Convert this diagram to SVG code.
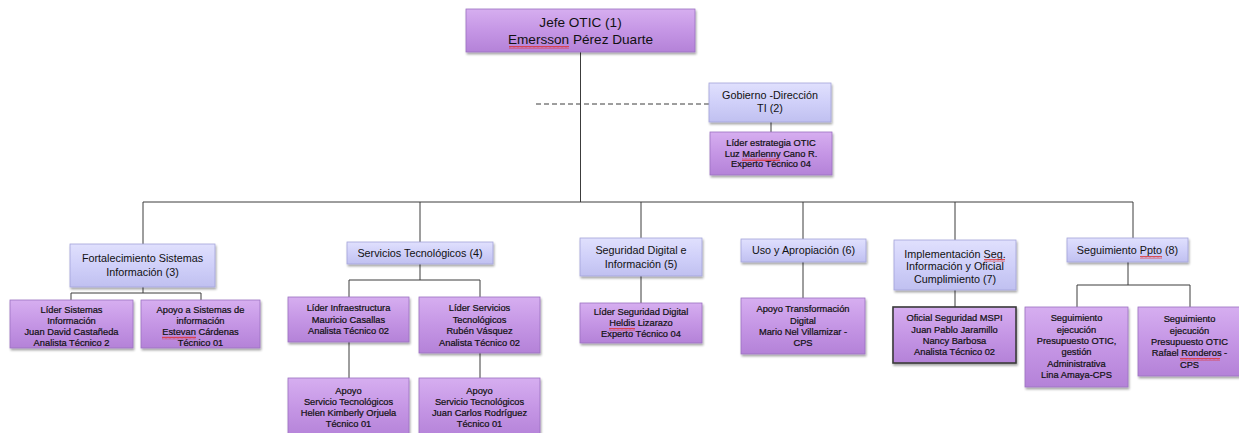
<svg xmlns="http://www.w3.org/2000/svg" width="1239" height="433" viewBox="0 0 1239 433">
<style>
text{font-family:"Liberation Sans",Arial,sans-serif;text-anchor:middle;fill:#111}
.p{fill:url(#gp);stroke:#9c72c0;stroke-width:0.8;filter:url(#sh)}
.l{fill:url(#gl);stroke:#a4a4da;stroke-width:0.8;filter:url(#sh)}
.dk{stroke:#3a3a3a;stroke-width:1.6}
.t0{font-size:13.6px}
.t1{font-size:10.8px}
.t2{font-size:9.3px;stroke:#111;stroke-width:0.22}
.c line,.c path{stroke:#3c3c3c;stroke-width:1;fill:none}
.sq{fill:url(#sqp)}
</style>
<defs>
<linearGradient id="gp" x1="0" y1="0" x2="0" y2="1">
<stop offset="0" stop-color="#d6aef0"/><stop offset="0.5" stop-color="#c596e5"/><stop offset="1" stop-color="#b482d8"/>
</linearGradient>
<linearGradient id="gl" x1="0" y1="0" x2="0" y2="1">
<stop offset="0" stop-color="#e0e0fd"/><stop offset="0.5" stop-color="#d0d0f9"/><stop offset="1" stop-color="#c0c0f0"/>
</linearGradient>
<filter id="sh" x="-10%" y="-10%" width="125%" height="135%">
<feDropShadow dx="1" dy="2" stdDeviation="1.3" flood-color="#000" flood-opacity="0.35"/>
</filter>
<pattern id="sqp" width="4" height="3" patternUnits="userSpaceOnUse">
<path d="M0 2.5 L1 0.5 L2 2.5 L3 0.5 L4 2.5" stroke="#e03030" stroke-width="0.8" fill="none"/>
</pattern>
</defs>

<g class="c" id="connectors">
<line x1="580.5" y1="52" x2="580.5" y2="202"/>
<line x1="536" y1="104" x2="709" y2="104" stroke-dasharray="5 3"/>
<line x1="771" y1="122" x2="771" y2="132"/>
<line x1="143" y1="202" x2="1133" y2="202"/>
<line x1="143" y1="202" x2="143" y2="244"/>
<line x1="420" y1="202" x2="420" y2="242"/>
<line x1="641" y1="202" x2="641" y2="238"/>
<line x1="803" y1="202" x2="803" y2="239"/>
<line x1="955" y1="202" x2="955" y2="240"/>
<line x1="1133" y1="202" x2="1133" y2="238"/>
<path d="M143 287 V293 M71 300 V293 H201 V300"/>
<path d="M420 264 V280 M349 297 V280 H480 V297"/>
<line x1="349" y1="342" x2="349" y2="378"/>
<line x1="480" y1="353" x2="480" y2="378"/>
<line x1="641" y1="276" x2="641" y2="303"/>
<line x1="803" y1="262" x2="803" y2="298"/>
<line x1="955" y1="290" x2="955" y2="307"/>
<path d="M1128 262 V285 M1077 307 V285 H1190 V307"/>
</g>

<g id="n1"><rect class="p" x="466" y="9" width="229" height="43"/>
<text class="t0" x="580.5" y="27">Jefe OTIC (1)</text>
<text class="t0" x="580.5" y="44">Emersson Pérez Duarte</text></g>

<g id="n2"><rect class="l" x="709" y="83" width="122" height="39"/>
<text class="t1" x="770" y="99">Gobierno -Dirección</text>
<text class="t1" x="770" y="112">TI (2)</text></g>

<g id="n2a"><rect class="p" x="710" y="132" width="122" height="43"/>
<text class="t2" x="771" y="146">Líder estrategia OTIC</text>
<text class="t2" x="771" y="156.5">Luz Marlenny Cano R.</text>
<text class="t2" x="771" y="167">Experto Técnico 04</text></g>

<g id="n3"><rect class="l" x="70" y="244" width="145" height="43"/>
<text class="t1" x="142.5" y="261.5">Fortalecimiento Sistemas</text>
<text class="t1" x="142.5" y="275.5">Información (3)</text></g>

<g id="n3a"><rect class="p" x="10" y="300" width="123" height="48"/>
<text class="t2" x="71.5" y="312.5">Líder Sistemas</text>
<text class="t2" x="71.5" y="323.5">Información</text>
<text class="t2" x="71.5" y="334.5">Juan David Castañeda</text>
<text class="t2" x="71.5" y="345.5">Analista Técnico 2</text></g>

<g id="n3b"><rect class="p" x="141" y="300" width="119" height="48"/>
<text class="t2" x="200.5" y="312.5">Apoyo a Sistemas de</text>
<text class="t2" x="200.5" y="323.5">información</text>
<text class="t2" x="200.5" y="334.5">Estevan Cárdenas</text>
<text class="t2" x="200.5" y="345.5">Técnico 01</text></g>

<g id="n4"><rect class="l" x="347" y="242" width="146" height="22"/>
<text class="t1" x="420" y="256.5">Servicios Tecnológicos (4)</text></g>

<g id="n4a"><rect class="p" x="288" y="297" width="121" height="45"/>
<text class="t2" x="348.5" y="311.3">Líder Infraestructura</text>
<text class="t2" x="348.5" y="322.8">Mauricio Casallas</text>
<text class="t2" x="348.5" y="334.3">Analista Técnico 02</text></g>

<g id="n4b"><rect class="p" x="419" y="297" width="121" height="56"/>
<text class="t2" x="479.5" y="311.3">Líder Servicios</text>
<text class="t2" x="479.5" y="322.8">Tecnológicos</text>
<text class="t2" x="479.5" y="334.3">Rubén Vásquez</text>
<text class="t2" x="479.5" y="345.8">Analista Técnico 02</text></g>

<g id="n4c"><rect class="p" x="288" y="378" width="121" height="60"/>
<text class="t2" x="348.5" y="394.3">Apoyo</text>
<text class="t2" x="348.5" y="405.3">Servicio Tecnológicos</text>
<text class="t2" x="348.5" y="416.3">Helen Kimberly Orjuela</text>
<text class="t2" x="348.5" y="427.3">Técnico 01</text></g>

<g id="n4d"><rect class="p" x="419" y="378" width="121" height="60"/>
<text class="t2" x="479.5" y="394.3">Apoyo</text>
<text class="t2" x="479.5" y="405.3">Servicio Tecnológicos</text>
<text class="t2" x="479.5" y="416.3">Juan Carlos Rodríguez</text>
<text class="t2" x="479.5" y="427.3">Técnico 01</text></g>

<g id="n5"><rect class="l" x="580" y="238" width="122" height="38"/>
<text class="t1" x="641" y="254">Seguridad Digital e</text>
<text class="t1" x="641" y="268">Información (5)</text></g>

<g id="n5a"><rect class="p" x="580" y="303" width="122" height="40"/>
<text class="t2" x="641" y="315.3">Líder Seguridad Digital</text>
<text class="t2" x="641" y="326.3">Heldis Lizarazo</text>
<text class="t2" x="641" y="337.3">Experto Técnico 04</text></g>

<g id="n6"><rect class="l" x="741" y="239" width="125" height="23"/>
<text class="t1" x="803.5" y="254">Uso y Apropiación (6)</text></g>

<g id="n6a"><rect class="p" x="741" y="298" width="124" height="56"/>
<text class="t2" x="803" y="312.3">Apoyo  Transformación</text>
<text class="t2" x="803" y="323.5">Digital</text>
<text class="t2" x="803" y="335">Mario Nel Villamizar -</text>
<text class="t2" x="803" y="346.3">CPS</text></g>

<g id="n7"><rect class="l" x="894" y="240" width="122" height="50"/>
<text class="t1" x="955" y="257.5">Implementación Seg.</text>
<text class="t1" x="955" y="270">Información y Oficial</text>
<text class="t1" x="955" y="282.5">Cumplimiento (7)</text></g>

<g id="n7a"><rect class="p dk" x="893" y="307" width="123" height="56"/>
<text class="t2" x="954.5" y="321.3">Oficial Seguridad MSPI</text>
<text class="t2" x="954.5" y="332.5">Juan Pablo Jaramillo</text>
<text class="t2" x="954.5" y="344">Nancy Barbosa</text>
<text class="t2" x="954.5" y="355.3">Analista Técnico 02</text></g>

<g id="n8"><rect class="l" x="1067" y="238" width="121" height="24"/>
<text class="t1" x="1127.5" y="254">Seguimiento Ppto (8)</text></g>

<g id="n8a"><rect class="p" x="1025" y="307" width="103" height="80"/>
<text class="t2" x="1076.5" y="321.3">Seguimiento</text>
<text class="t2" x="1076.5" y="332.6">ejecución</text>
<text class="t2" x="1076.5" y="343.9">Presupuesto OTIC,</text>
<text class="t2" x="1076.5" y="355.2">gestión</text>
<text class="t2" x="1076.5" y="366.5">Administrativa</text>
<text class="t2" x="1076.5" y="377.8">Lina Amaya-CPS</text></g>

<g id="n8b"><rect class="p" x="1138" y="307" width="103" height="69"/>
<text class="t2" x="1189.5" y="322.3">Seguimiento</text>
<text class="t2" x="1189.5" y="333.6">ejecución</text>
<text class="t2" x="1189.5" y="344.9">Presupuesto OTIC</text>
<text class="t2" x="1189.5" y="356.2">Rafael Ronderos -</text>
<text class="t2" x="1189.5" y="367.5">CPS</text></g>

<g id="spellcheck">
<rect class="sq" x="509" y="46" width="60" height="3"/>
<rect class="sq" x="742" y="158" width="38" height="3"/>
<rect class="sq" x="162" y="336.5" width="34" height="3"/>
<rect class="sq" x="609" y="328" width="26" height="3"/>
<rect class="sq" x="1140" y="256" width="22" height="3"/>
<rect class="sq" x="984" y="259" width="21" height="3"/>
<rect class="sq" x="1180" y="358" width="40" height="3"/>
</g>
</svg>
